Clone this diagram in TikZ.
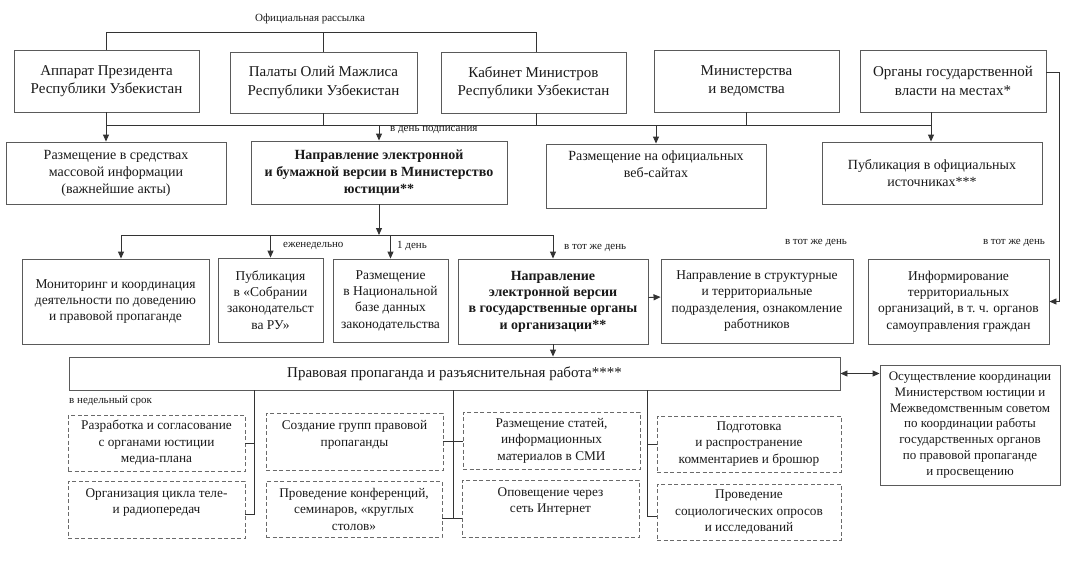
\documentclass[tikz,border=0pt]{standalone}
\usepackage{fontspec}
\setmainfont{Liberation Serif}
\usetikzlibrary{arrows.meta,calc}
\definecolor{boxc}{HTML}{5A5A5A}
\definecolor{linec}{HTML}{333333}
\definecolor{dashc}{HTML}{6A6A6A}
\definecolor{txt}{HTML}{1A1A1A}
\begin{document}
\begin{tikzpicture}[x=1pt,y=-1pt,
  box/.style={draw=boxc, line width=0.9pt, inner sep=0pt, align=center, text=txt},
  dbox/.style={box, draw=dashc, dash pattern=on 4pt off 2.5pt, font=\fontsize{13.3}{16.5}\selectfont},
  sz/.style 2 args={minimum width=#1, minimum height=#2},
  ftop/.style={font=\fontsize{15}{18.5}\selectfont},
  frow/.style={font=\fontsize{14}{17}\selectfont},
  frowb/.style={font=\fontsize{14}{17}\selectfont\bfseries},
  fthr/.style={font=\fontsize{13.5}{16.4}\selectfont},
  fthrb/.style={font=\fontsize{14}{16.4}\selectfont\bfseries},
  lbl/.style={font=\fontsize{11}{13}\selectfont, inner sep=0pt, text=txt},
  conn/.style={draw=linec, line width=0.9pt},
  arr/.style={conn, -{Triangle[length=7pt,width=6pt]}},
  darr/.style={conn, {Triangle[length=7pt,width=6pt]}-{Triangle[length=7pt,width=6pt]}}
]
\useasboundingbox (0,0) rectangle (1081,574);
\fill[white] (0,0) rectangle (1081,574);

% top row
\node[box,ftop,sz={185}{62}] (a1) at (106.5,81) {Аппарат Президента\\Республики Узбекистан};
\node[box,ftop,sz={187}{61}] (a2) at (323.5,82.5) {Палаты Олий Мажлиса\\Республики Узбекистан};
\node[box,ftop,sz={185}{61}] (a3) at (533.5,82.5) {Кабинет Министров\\Республики Узбекистан};
\node[box,ftop,sz={185}{62}] (a4) at (746.5,81) {Министерства\\и ведомства};
\node[box,ftop,sz={186}{62}] (a5) at (953,81) {Органы государственной\\власти на местах*};
\node[lbl] (l0) at (310,19) {Официальная рассылка};

% second row
\node[box,frow,sz={220}{62}] (b1) at (116,173) {Размещение в средствах\\массовой информации\\(важнейшие акты)};
\node[box,frowb,sz={256}{63}] (b2) at (379,172.5) {Направление электронной\\и бумажной версии в Министерство\\юстиции**};
\node[box,frow,sz={220}{64}] (b3) at (656,176) {Размещение на официальных\\веб-сайтах\\[7pt]\mbox{}};
\node[box,frow,sz={220}{62}] (b4) at (932,173) {Публикация в официальных\\источниках***};
\node[lbl,anchor=west] (l1) at (390,130) {в день подписания};

% third row
\node[box,fthr,sz={187}{85}] (c1) at (115.5,301.5) {Мониторинг и координация\\деятельности по доведению\\и правовой пропаганде};
\node[box,fthr,sz={105}{84}] (c2) at (270.5,300) {Публикация\\в «Собрании\\законодательст\\ва РУ»};
\node[box,fthr,sz={115}{83}] (c3) at (390.5,300.5) {Размещение\\в Национальной\\базе данных\\законодательства};
\node[box,fthrb,sz={190}{85}] (c4) at (553,301.5) {Направление\\электронной версии\\в государственные органы\\и организации**};
\node[box,fthr,sz={192}{84}] (c5) at (757,301) {Направление в структурные\\и территориальные\\подразделения, ознакомление\\работников};
\node[box,fthr,sz={181}{85}] (c6) at (958.5,301.5) {Информирование\\территориальных\\организаций, в т.~ч. органов\\самоуправления граждан};
\node[lbl,anchor=west] (l2) at (283,246) {еженедельно};
\node[lbl,anchor=west] (l3) at (397,246) {1 день};
\node[lbl,anchor=west] (l4) at (564,248) {в тот же день};
\node[lbl] (l5) at (816,243) {в тот же день};
\node[lbl] (l6) at (1014,243) {в тот же день};

% propaganda
\node[box,font=\fontsize{15}{18}\selectfont,sz={771}{33}] (d) at (454.5,373.5) {Правовая пропаганда и разъяснительная работа****};
\node[box,font=\fontsize{13}{15.8}\selectfont,sz={180}{120}] (e) at (970,425) {Осуществление координации\\Министерством юстиции и\\Межведомственным советом\\по координации работы\\государственных органов\\по правовой пропаганде\\и просвещению};
\node[lbl,anchor=west] (l7) at (69,401) {в недельный срок};

% dashed boxes
\node[dbox,sz={177}{56}] (f1) at (156.5,443) {Разработка и согласование\\с органами юстиции\\медиа-плана};
\node[dbox,sz={177}{57}] (f2) at (156.5,509.5) {Организация цикла теле-\\и радиопередач\\[0pt]\mbox{}};
\node[dbox,sz={177}{57}] (g1) at (354.5,441.5) {Создание групп правовой\\пропаганды\\[0pt]\mbox{}};
\node[dbox,sz={176}{56}] (g2) at (354,509) {Проведение конференций,\\семинаров, «круглых\\столов»};
\node[dbox,sz={177}{57}] (h1) at (551.5,440.5) {Размещение статей,\\информационных\\материалов в СМИ};
\node[dbox,sz={177}{57}] (h2) at (550.5,508.5) {Оповещение через\\сеть Интернет\\[0pt]\mbox{}};
\node[dbox,sz={184}{56}] (k1) at (749,444) {Подготовка\\и распространение\\комментариев и брошюр};
\node[dbox,sz={184}{56}] (k2) at (749,512) {Проведение\\социологических опросов\\и исследований};

% connectors: top
\coordinate (p0l) at (106,32);
\coordinate (p0r) at (536,32);
\draw[conn] (p0l) -- (p0r);
\draw[conn] (p0l) -- (a1.north -| p0l);
\draw[conn] (a2.north |- p0l) -- (a2.north);
\draw[conn] (p0r) -- (a3.north -| p0r);

\coordinate (hl) at (106,125);
\coordinate (hr) at (931,125);
\draw[conn] (hl) -- (hr);
\draw[arr] (a1.south -| hl) -- (b1.north -| hl);
\draw[conn] (a2.south) -- (a2.south |- hl);
\draw[conn] (a3.south -| p0r) -- (hl -| p0r);
\draw[conn] (a4.south) -- (a4.south |- hl);
\draw[arr] (a5.south -| hr) -- (b4.north -| hr);
\draw[arr] (b2.north |- hl) -- (b2.north);
\draw[arr] (b3.north |- hl) -- (b3.north);

% second to third
\coordinate (ml) at (121,235);
\coordinate (mr) at (553,235);
\draw[conn] (ml) -- (mr);
\draw[arr] (b2.south) -- (b2.south |- ml);
\draw[arr] (ml) -- (c1.north -| ml);
\draw[arr] (c2.north |- ml) -- (c2.north);
\draw[arr] (c3.north |- ml) -- (c3.north);
\draw[arr] (mr) -- (c4.north);

\coordinate (rc) at (1059,301.5);
\draw[arr] ([yshift=9pt]a5.east) -| (rc) -- (c6.east);
\draw[arr] ([yshift=4pt]c4.east) -- ([yshift=4pt]c5.west);
\draw[arr] (c4.south) -- (c4.south |- d.north);
\draw[darr] (d.east) -- (d.east -| e.west);

% bottom connectors
\coordinate (v1b) at (254,514);
\draw[conn] (d.south -| v1b) -- (v1b) -- (f2.east |- v1b);
\draw[conn] (f1.east) -- (f1.east -| v1b);
\coordinate (v2b) at (453,518);
\draw[conn] (d.south -| v2b) -- (v2b);
\draw[conn] (g2.east |- v2b) -- (h2.west |- v2b);
\draw[conn] (g1.east) -- (g1.east -| h1.west);
\coordinate (v4b) at (647,516);
\draw[conn] (d.south -| v4b) -- (v4b) -- (k2.west |- v4b);
\draw[conn] (k1.west) -- (k1.west -| v4b);
\end{tikzpicture}
\end{document}
